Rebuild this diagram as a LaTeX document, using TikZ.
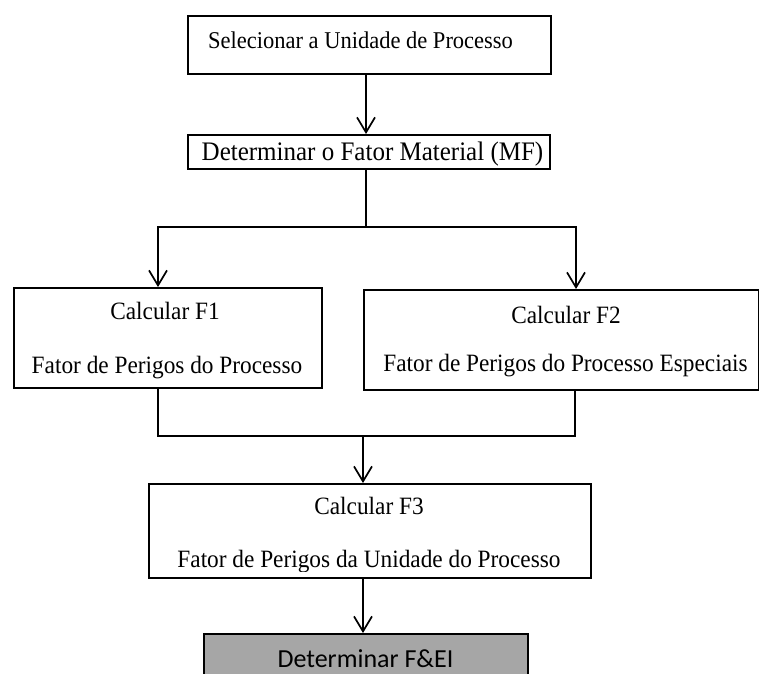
\documentclass[tikz,border=0pt]{standalone}
\usepackage{fontspec}
\setmainfont{Liberation Serif}
\newfontfamily\calib{Carlito}
\usetikzlibrary{arrows.meta}
\definecolor{boxgray}{HTML}{A6A6A6}
\newcommand{\tall}[1]{\scalebox{1}[1.07]{#1}}
\begin{document}
\begin{tikzpicture}[x=1pt,y=-1pt,
  box/.style={draw, line width=1.7pt, inner sep=0pt, anchor=north west},
  conn/.style={line width=1.7pt},
  arr/.style={conn, -{Straight Barb[length=15pt,width=18pt,line width=1.7pt]}},
  txt/.style={anchor=base, inner sep=0pt, font=\fontsize{23.3}{28}\selectfont}]
\useasboundingbox (0,0) rectangle (759,673);
\clip (0,0) rectangle (759,673);
\fill[white] (0,0) rectangle (759,673);
% boxes
\node[box, minimum width=363pt, minimum height=58pt] (b1) at (187,15) {};
\node[box, minimum width=362pt, minimum height=34pt] (b2) at (187,134) {};
\node[box, minimum width=308pt, minimum height=100pt] (f1) at (13,287) {};
\node[box, minimum width=395pt, minimum height=100pt] (f2) at (363,289) {};
\node[box, minimum width=442pt, minimum height=94pt] (f3) at (148,483) {};
\node[box, fill=boxgray, minimum width=324pt, minimum height=70pt] (fei) at (203,633) {};
% texts
\node[txt, font=\fontsize{22.5}{27}\selectfont] (t1) at (360.5,48) {\tall{Selecionar a Unidade de Processo}};
\node[txt, font=\fontsize{25}{30}\selectfont] (t2) at (372.5,160) {\tall{Determinar o Fator Material (MF)}};
\node[txt] (t3a) at (165,319) {\tall{Calcular F1}};
\node[txt] (t3b) at (167,373) {\tall{Fator de Perigos do Processo}};
\node[txt] (t4a) at (566,323) {\tall{Calcular F2}};
\node[txt] (t4b) at (565.5,371) {\tall{Fator de Perigos do Processo Especiais}};
\node[txt] (t5a) at (369,514) {\tall{Calcular F3}};
\begin{scope}
  \clip (148,483) rectangle (590,571);
  \node[txt] (t5b) at (369,567) {\tall{Fator de Perigos da Unidade do Processo}};
\end{scope}
\node[txt, font=\calib\fontsize{26}{31}\selectfont] (t6) at (365.5,667) {Determinar F\&EI};
% connector coordinates
\coordinate (cA) at (366,0);
\coordinate (j1) at (366,227);
\coordinate (cL) at (158,0);
\coordinate (cR) at (576,0);
\coordinate (j2) at (363,436);
\coordinate (j2r) at (575,436);
% connectors
\draw[arr] (b1.south -| cA) -- (b2.north -| cA);
\draw[conn] (b2.south -| cA) -- (j1);
\draw[arr] (j1) -| (f1.north -| cL);
\draw[arr] (j1) -| (f2.north -| cR);
\draw[conn] (f1.south -| cL) |- (j2r) -- (f2.south -| j2r);
\draw[arr] (j2) -- (f3.north -| j2);
\draw[arr] (f3.south -| j2) -- (fei.north -| j2);
\end{tikzpicture}
\end{document}
